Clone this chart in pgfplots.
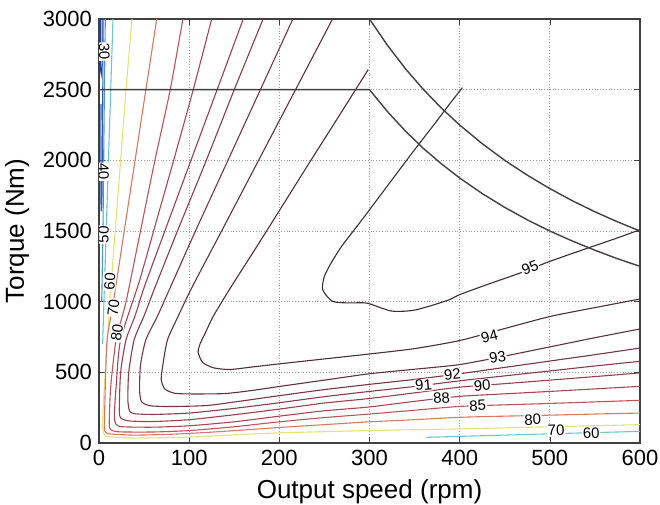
\documentclass[border=0pt]{standalone}
\usepackage{fontspec}
\setmainfont{Liberation Sans}
\usepackage{pgfplots}
\pgfplotsset{compat=1.18}

% contour colours, low (blue) to high (dark red)
\definecolor{c30}{HTML}{2340A0}
\definecolor{c40}{HTML}{2F5FB8}
\definecolor{c50}{HTML}{4C92CC}
\definecolor{c60}{HTML}{66C8CC}
\definecolor{c70}{HTML}{E8E070}
\definecolor{c80}{HTML}{D8785E}
\definecolor{c85}{HTML}{C25258}
\definecolor{c88}{HTML}{AE4452}
\definecolor{c90}{HTML}{9C3E4E}
\definecolor{c91}{HTML}{8A3A48}
\definecolor{c92}{HTML}{783442}
\definecolor{c93}{HTML}{62303C}
\definecolor{c94}{HTML}{502C38}
\definecolor{c95}{HTML}{3E2A32}
\definecolor{limit}{HTML}{404040}
\tikzset{clabel/.style={font=\fontsize{7.5}{8}\selectfont, fill=white, inner sep=0.4pt}}

\begin{document}
\begin{tikzpicture}
\begin{axis}[
  name=ax,
  width=270.5pt, height=212pt, scale only axis,
  xmin=0, xmax=600, ymin=0, ymax=3000,
  xtick={0,100,...,600}, ytick={0,500,...,3000},
  grid=major, grid style={densely dotted, gray!80, line width=0.5pt},
  axis line style={gray!50!black, line width=0.6pt},
  tick style={gray!50!black}, tick align=inside, major tick length=3pt,
  xlabel={Output speed (rpm)}, ylabel={Torque (Nm)},
  label style={font=\fontsize{13}{14}\selectfont},
  tick label style={font=\fontsize{11}{12}\selectfont},
  /pgf/number format/assume math mode=true,
  /pgf/number format/set thousands separator={},
  every axis plot/.append style={line width=0.55pt, no markers},
]
% low-efficiency contours along the left edge
\addplot[c30] coordinates {(1.5,3000) (1.5,2650) (2.5,2610) (3.4,2680) (3.4,3000)};
\addplot[c40] coordinates {(4.6,3000) (4.2,2500) (3.8,2000) (3.2,1700) (2.4,1640) (2.0,1800) (2.2,2400)};
\addplot[c50] coordinates {(7,3000) (6,2500) (5.2,2000) (4.4,1500) (3.6,1200) (3,1000)};
\addplot[c60] coordinates {(15.5,3000) (13,2500) (10.5,2000) (8,1500) (6,1100) (5,900) (4,700)};
\addplot[c60] coordinates {(363,40) (400,47) (450,56) (500,65) (550,74) (600,82)};
\addplot[c70, smooth, tension=0.4] coordinates {(36.6,3000) (30,2500) (24,2000) (18,1500) (12,1000) (8,600) (5,300) (4,120) (6,60) (10,45) (40,35) (100,42) (150,58) (200,72) (300,88) (400,100) (500,115) (600,130)};
% V-shaped contours
\addplot[c80, smooth, tension=0.4] coordinates {(64,3000) (52,2500) (40,2000) (28,1500) (16,1000) (9,731) (7,400) (6,110) (8,75) (12,64) (40,56) (80,62) (120,75) (160,92) (200,110) (250,130) (300,150) (350,165) (400,182) (450,190) (500,197) (550,205) (600,212)};
\addplot[c85, smooth, tension=0.4] coordinates {(93,3000) (79,2500) (62,2000) (46,1500) (30,1000) (19,731) (13,400) (11.4,142) (13,94) (22.5,79) (60,78) (100,88) (150,115) (200,150) (250,180) (300,205) (350,232) (400,259) (450,270) (500,280) (550,291) (600,302)};
\addplot[c88, smooth, tension=0.4] coordinates {(125,3000) (104.5,2500) (85,2050) (65,1600) (45,1150) (24,731) (19,400) (17,188) (19,132) (26,115) (60,112) (100,122) (150,150) (200,190) (250,228) (300,255) (350,295) (400,330) (450,348) (500,365) (550,383) (600,401)};
\addplot[c90, smooth, tension=0.4] coordinates {(160,3000) (131,2500) (102,2000) (73,1500) (50,1100) (40,900) (30,731) (24,500) (22.5,236) (24,177) (34,156) (60,152) (100,165) (150,200) (200,240) (250,283) (300,315) (350,355) (400,395) (450,420) (500,445) (550,470) (600,496)};
\addplot[c91, smooth, tension=0.4] coordinates {(182,3000) (150,2500) (119,2000) (87,1500) (62,1100) (50,900) (39,731) (33,500) (32,306) (34,226) (40,207) (60,202) (100,212) (150,245) (200,285) (250,328) (300,365) (350,400) (400,440) (450,475) (500,510) (550,545) (600,578)};
\addplot[c92, smooth, tension=0.4] coordinates {(215,3000) (179,2500) (143,2000) (107,1500) (79,1100) (65,900) (52,731) (46,550) (45,377) (47,294) (56,264) (80,258) (119,265) (150,290) (200,335) (250,378) (300,415) (350,450) (400,490) (450,535) (500,580) (550,625) (600,672)};
\addplot[c93, smooth, tension=0.4] coordinates {(259,3000) (218,2500) (177,2000) (136,1500) (103,1100) (88,900) (76,731) (71,560) (69,450) (73,382) (84,352) (104,347) (140,350) (170,372) (200,400) (250,445) (300,490) (350,522) (400,555) (450,615) (500,680) (550,745) (600,807)};
\addplot[c94, smooth, tension=0.4] coordinates {(298.6,2642) (264.8,2300) (235,2000) (205.5,1700) (176,1400) (146,1100) (127,900) (118,780) (112,700) (110,640) (115,570) (127,532) (145,520) (170,538) (200,560) (250,595) (300,630) (350,668) (400,725) (450,810) (500,895) (550,958) (600,1019)};
% 95 island
\addplot[c95, smooth, tension=0.4] coordinates {(403,2514) (389,2400) (370,2240) (350,2075) (330,1905) (310,1735) (290,1565) (270,1400) (258,1280) (250,1180) (248,1085) (259,1002) (278,991) (297,990) (323,935) (340,933) (352,943) (370,975) (389,1015) (400,1050) (430,1120) (467,1203) (500,1285) (537,1368) (570,1440) (600,1509)};
% torque / power limit lines
\addplot[limit, line width=0.7pt] coordinates {(0,2500) (300,2500) (320,2344) (340,2206) (360,2083) (380,1974) (400,1875) (425,1765) (450,1667) (475,1579) (500,1500) (525,1429) (550,1364) (575,1304) (600,1250)};
\addplot[limit, line width=0.7pt] coordinates {(300,3000) (320,2813) (340,2647) (360,2500) (380,2368) (400,2250) (425,2118) (450,2000) (475,1895) (500,1800) (525,1714) (550,1636) (575,1565) (600,1500)};
% contour labels
\node[clabel, rotate=21] at (axis cs:478,1238) {95};
\node[clabel, rotate=15] at (axis cs:433,754) {94};
\node[clabel, rotate=9] at (axis cs:442,605) {93};
\node[clabel, rotate=6] at (axis cs:392,484) {92};
\node[clabel, rotate=5] at (axis cs:360,410) {91};
\node[clabel, rotate=5] at (axis cs:425,408) {90};
\node[clabel, rotate=4] at (axis cs:380,318) {88};
\node[clabel, rotate=3] at (axis cs:420,263) {85};
\node[clabel, rotate=2] at (axis cs:481,165) {80};
\node[clabel, rotate=2] at (axis cs:507,90) {70};
\node[clabel, rotate=2] at (axis cs:546,71) {60};
\node[clabel, rotate=-88] at (axis cs:6,2770) {30};
\node[clabel, rotate=-88] at (axis cs:5,1920) {40};
\node[clabel, rotate=88] at (axis cs:5,1474) {50};
\node[clabel, rotate=86] at (axis cs:12,1142) {60};
\node[clabel, rotate=84] at (axis cs:16,957) {70};
\node[clabel, rotate=82] at (axis cs:20,780) {80};
\end{axis}
\pgfresetboundingbox
\path[use as bounding box] ([xshift=-49.5pt,yshift=-30.5pt]ax.south west) rectangle ([xshift=10pt,yshift=9.5pt]ax.north east);
\end{tikzpicture}
\end{document}
